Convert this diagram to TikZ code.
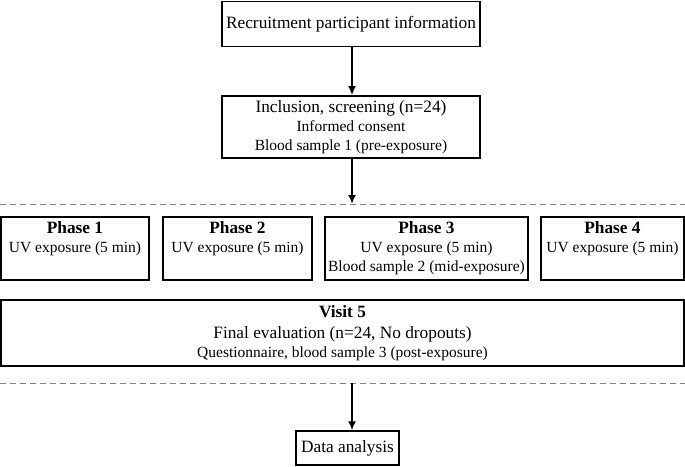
\documentclass[tikz,border=0pt]{standalone}
\usepackage{fontspec}
\setmainfont{Liberation Serif}
\usetikzlibrary{arrows.meta,positioning}
\newcommand{\bigtxt}{\fontsize{17.3}{20}\selectfont}
\newcommand{\smalltxt}{\fontsize{15.5}{19}\selectfont}

\begin{document}
\begin{tikzpicture}[
  x = 1pt, y = -1pt,
  node distance = 48pt and 14pt,
  > = {Latex[length=9pt,width=8pt]},
  box/.style = {rectangle, draw, line width=1.4pt, align=center,
                inner sep=2pt, font=\smalltxt},
  phase/.style = {box, minimum height=63pt},
  flow/.style = {->, line width=2.6pt},
  sep/.style = {gray, line width=0.8pt, dash pattern=on 6pt off 4pt}
]
\useasboundingbox (0,0) rectangle (685,466);

% ───────── screening ─────────
\node[box, font=\bigtxt, minimum width=258pt, minimum height=45pt] (recruit) at (351,24)
  {Recruitment participant information};
\node[box, minimum width=258pt, minimum height=62pt, below=48pt of recruit] (incl)
  {{\bigtxt Inclusion, screening (n=24)}\\Informed consent\\Blood sample 1 (pre-exposure)};

% ───────── separators ─────────
\coordinate (sepAl) at (0,204);
\coordinate (sepAr) at (685,204);
\coordinate (sepBl) at (0,383);
\coordinate (sepBr) at (685,383);
\draw[sep] (sepAl) -- (sepAr);
\draw[sep] (sepBl) -- (sepBr);

% ───────── phases ─────────
\node[phase, minimum width=148pt] (ph1) at (75,248.5)
  {{\bigtxt\bfseries Phase 1}\\UV exposure (5 min)\\\phantom{B(x)}};
\node[phase, minimum width=149pt] (ph2) at (237.5,248.5)
  {{\bigtxt\bfseries Phase 2}\\UV exposure (5 min)\\\phantom{B(x)}};
\node[phase, minimum width=203pt] (ph3) at (426.5,248.5)
  {{\bigtxt\bfseries Phase 3}\\UV exposure (5 min)\\Blood sample 2 (mid-exposure)};
\node[phase, minimum width=143pt] (ph4) at (612.5,248.5)
  {{\bigtxt\bfseries Phase 4}\\UV exposure (5 min)\\\phantom{B(x)}};

% ───────── final visit ─────────
\node[box, minimum width=683pt, minimum height=66pt] (visit) at (342.5,333)
  {{\bigtxt\bfseries Visit 5}\\[2pt]{\bigtxt Final evaluation (n=24, No dropouts)}\\Questionnaire, blood sample 3 (post-exposure)};

\node[box, font=\bigtxt, minimum width=103pt, minimum height=34pt] (data) at (347.5,448)
  {Data analysis};

% ───────── arrows ──────────
\coordinate (inA) at (352,204);
\coordinate (outB) at (352,383);
\draw[flow] (recruit.south -| inA) -- (incl.north -| inA);
\draw[flow] (incl.south -| inA) -- (inA);
\draw[flow] (outB) -- (outB |- data.north);
\end{tikzpicture}
\end{document}
